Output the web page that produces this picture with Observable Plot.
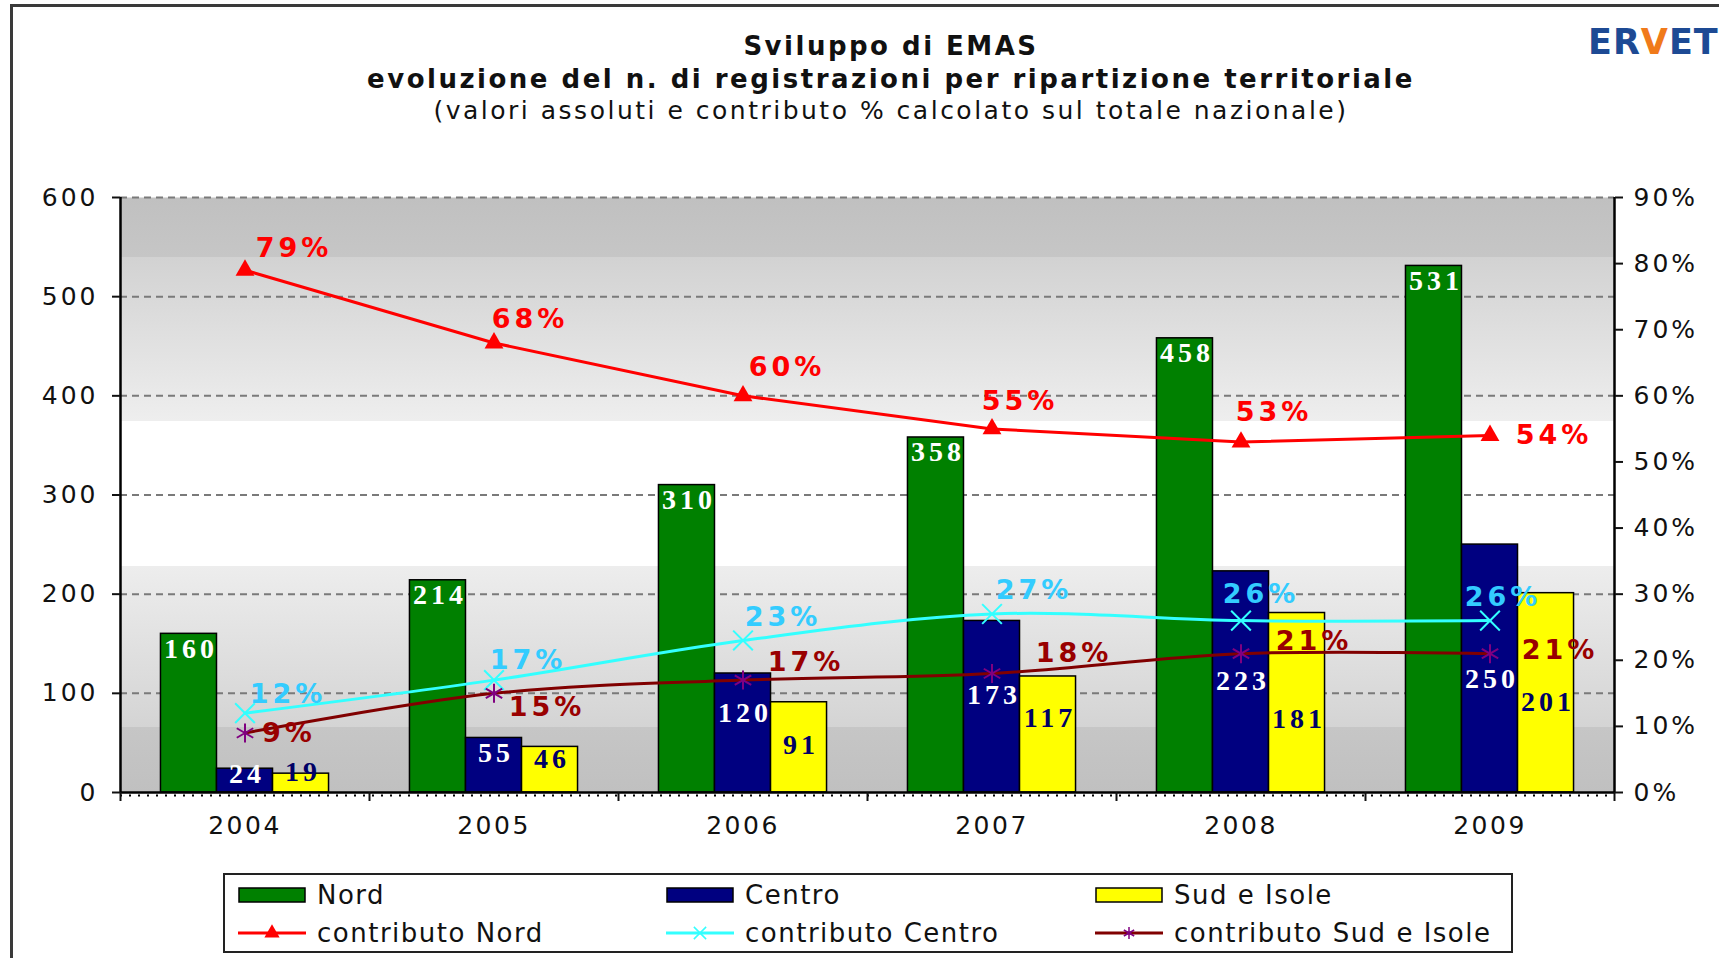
<!DOCTYPE html>
<html>
<head>
<meta charset="utf-8">
<script src="https://cdn.jsdelivr.net/npm/d3@7"></script>
<script src="https://cdn.jsdelivr.net/npm/@observablehq/plot@0.6"></script>
<style>
  html, body { margin: 0; padding: 0; background: #fff; }
  #root { position: relative; width: 1719px; height: 958px; overflow: hidden; background: #fff; font-family: "DejaVu Sans", Verdana, sans-serif; }
  #frame { position: absolute; left: 10px; top: 4px; width: 1800px; height: 1000px; border: 3px solid #3a3a3a; box-sizing: border-box; }
  .title { position: absolute; left: 291px; width: 1200px; text-align: center; color: #111; white-space: nowrap; }
  #t1 { top: 31px; font-size: 26px; line-height: 30px; font-weight: bold; letter-spacing: 2.5px; }
  #t2 { top: 64px; font-size: 26px; line-height: 30px; font-weight: bold; letter-spacing: 2.5px; }
  #t3 { top: 96px; font-size: 25px; line-height: 30px; letter-spacing: 2.5px; }
  #logo { position: absolute; left: 1588px; top: 22px; font-size: 35px; font-weight: bold; color: #1d4a94; letter-spacing: 1px; white-space: nowrap; }
  #logo span { color: #f07a1a; }
  #chart { position: absolute; left: 0; top: 150px; }
  #legend { position: absolute; left: 223px; top: 873px; width: 1290px; height: 80px; border: 2px solid #222; box-sizing: border-box; background: #fff; }
  .li { position: absolute; height: 34px; display: flex; align-items: center; font-size: 26px; letter-spacing: 1.5px; color: #111; white-space: nowrap; }
  .li svg { margin-right: 11px; }
  g[aria-label="text"][font-family="Liberation Serif"] text { letter-spacing: 4px; }
  g[aria-label="text"][font-family="DejaVu Sans"] text { letter-spacing: 4px; }
  g[aria-label="y-axis tick label"] text { letter-spacing: 3px; }
  g[aria-label="x-axis tick label"] text { letter-spacing: 2.5px; }
</style>
</head>
<body>
<div id="root">
  <div id="frame"></div>
  <div class="title" id="t1">Sviluppo di EMAS</div>
  <div class="title" id="t2">evoluzione del n. di registrazioni per ripartizione territoriale</div>
  <div class="title" id="t3">(valori assoluti e contributo % calcolato sul totale nazionale)</div>
  <div id="logo">ER<span>V</span>ET</div>
  <div id="chart"></div>
  <div id="legend"></div>
</div>
<script>
// ---- data ----
const years = [2004, 2005, 2006, 2007, 2008, 2009];
const nord = [160, 214, 310, 358, 458, 531];
const centro = [24, 55, 120, 173, 223, 250];
const sud = [19, 46, 91, 117, 181, 201];
const pctNord = [79, 68, 60, 55, 53, 54];
const pctCentro = [12, 17, 23, 27, 26, 26];
const pctSud = [9, 15, 17, 18, 21, 21];
const leftTicks = [0, 100, 200, 300, 400, 500, 600];
const rightTicks = [0, 10, 20, 30, 40, 50, 60, 70, 80, 90];
const seriesNames = ["Nord", "Centro", "Sud e Isole"];
const lineNames = ["contributo Nord", "contributo Centro", "contributo Sud e Isole"];

// ---- layout (label placement only) ----
const centroLabelAt = [19, 40, 80, 98, 112, 114];
const sudLabelAt = [21, 34, 48, 75, 74, 91];
const nordPctOff = [[47, -22], [34, -24], [42, -28], [26, -28], [31, -30], [62, 0]];
const centroPctOff = [[41, -19], [32, -20], [38, -23], [40, -24], [18, -26], [11, -23]];
const sudPctOff = [[42, 0], [51, 14], [61, -18], [80, -20], [71, -12], [68, -3]];

const leftMax = 600, rightMax = 90;
const toLeft = p => p * leftMax / rightMax;
const bw = 0.225;
const bounds = d3.range(years.length + 1).map(i => years[0] - 0.5 + i);

const colors = { nord: "#008000", centro: "#000080", sud: "#ffff00" };
const lineColors = { nord: "#ff0000", centro: "#33ffff", sud: "#800000" };
const labelColors = { nord: "#ff0000", centro: "#33ccff", sud: "#990000" };

const rows = (vals, off) => years.map((y, i) => ({ year: y, value: vals[i], x1: y + off - bw / 2, x2: y + off + bw / 2, xc: y + off, i }));
const nordRows = rows(nord, -bw), centroRows = rows(centro, 0), sudRows = rows(sud, bw);
const pctRows = vals => years.map((y, i) => ({ year: y, pct: vals[i], i }));

function barMarks(data, fill) {
  return Plot.rectY(data, { x1: "x1", x2: "x2", y1: 0, y2: "value", fill, stroke: "#000", strokeWidth: 1.5 });
}
function barLabels(data, yAcc, dy, color) {
  return Plot.text(data, { x: "xc", y: yAcc, dy, dx: 2, text: d => String(d.value), fill: color, fontWeight: "bold", fontSize: 28, fontFamily: "Liberation Serif", lineAnchor: "middle" });
}
function pctLabels(vals, offs, color) {
  return years.map((y, i) => Plot.text([{ year: y, pct: vals[i] }], {
    x: "year", y: d => toLeft(d.pct), text: d => d.pct + "%",
    dx: offs[i][0] + 2, dy: offs[i][1], fill: color, fontWeight: "bold", fontSize: 27,
    fontFamily: "DejaVu Sans", textAnchor: "middle", lineAnchor: "middle"
  }));
}

const chart = Plot.plot({
  width: 1719, height: 720,
  marginLeft: 120, marginRight: 105, marginTop: 47, marginBottom: 78,
  style: { fontFamily: "DejaVu Sans", color: "#111", background: "transparent", overflow: "visible" },
  x: { type: "linear", domain: [bounds[0], bounds[bounds.length - 1]], axis: null },
  y: { domain: [0, leftMax], axis: null },
  marks: [
    Plot.frame({ fill: "url(#bgGrad)", stroke: "none" }),
    Plot.ruleY(leftTicks.filter(t => t > 0), { stroke: "#7a7a7a", strokeWidth: 2, strokeDasharray: "7,5" }),
    barMarks(nordRows, colors.nord),
    barMarks(centroRows, colors.centro),
    barMarks(sudRows, colors.sud),
    Plot.ruleX([bounds[0], bounds[bounds.length - 1]], { y1: 0, y2: leftMax, stroke: "#000", strokeWidth: 2.5 }),
    Plot.ruleY([0], { stroke: "#000", strokeWidth: 2.5 }),
    Plot.ruleY([0], { stroke: "#000", strokeWidth: 2, strokeDasharray: "2,7", dy: 3 }),
    Plot.axisY(leftTicks, { anchor: "left", label: null, tickSize: 8, tickPadding: 14, fontSize: 25, tickFormat: d => String(d), strokeWidth: 2 }),
    Plot.axisY(rightTicks.map(toLeft), { anchor: "right", label: null, tickSize: 8, tickPadding: 11, fontSize: 25, tickFormat: d => Math.round(d * rightMax / leftMax) + "%", strokeWidth: 2 }),
    Plot.axisX(bounds, { anchor: "bottom", label: null, tickSize: 9, tickFormat: () => "", strokeWidth: 2 }),
    Plot.axisX(years, { anchor: "bottom", label: null, tickSize: 0, tickPadding: 24, fontSize: 25, tickFormat: d => String(d) }),
    // bar labels
    barLabels(nordRows, "value", 15, "#fff"),
    barLabels(centroRows, d => centroLabelAt[d.i], 0, "#fff"),
    barLabels(sudRows, d => sudLabelAt[d.i], 0, "#000066"),
    // lines
    Plot.line(pctRows(pctNord), { x: "year", y: d => toLeft(d.pct), stroke: lineColors.nord, strokeWidth: 3 }),
    Plot.line(pctRows(pctCentro), { x: "year", y: d => toLeft(d.pct), stroke: lineColors.centro, strokeWidth: 3, curve: "catmull-rom" }),
    Plot.line(pctRows(pctSud), { x: "year", y: d => toLeft(d.pct), stroke: lineColors.sud, strokeWidth: 3, curve: "catmull-rom" }),
    Plot.dot(pctRows(pctNord), { x: "year", y: d => toLeft(d.pct), symbol: "triangle", r: 7, fill: lineColors.nord, stroke: "none" }),
    Plot.dot(pctRows(pctCentro), { x: "year", y: d => toLeft(d.pct), symbol: "times", r: 9, stroke: lineColors.centro, strokeWidth: 2 }),
    Plot.dot(pctRows(pctSud), { x: "year", y: d => toLeft(d.pct), symbol: "asterisk", r: 9, stroke: "#800080", strokeWidth: 2 }),
    ...pctLabels(pctNord, nordPctOff, labelColors.nord),
    ...pctLabels(pctCentro, centroPctOff, labelColors.centro),
    ...pctLabels(pctSud, sudPctOff, labelColors.sud)
  ]
});

// background gradient definition
const svgSel = d3.select(chart);
const defs = svgSel.insert("defs", ":first-child");
const grad = defs.append("linearGradient").attr("id", "bgGrad").attr("x1", 0).attr("y1", 0).attr("x2", 0).attr("y2", 1);
[
  [0, "#c0c0c0"], [0.1, "#c6c6c6"], [0.1, "#d2d2d2"], [0.375, "#eeeeee"], [0.375, "#ffffff"],
  [0.62, "#ffffff"], [0.62, "#ededed"], [0.89, "#d4d4d4"], [0.89, "#c6c6c6"], [1, "#c0c0c0"]
].forEach(([o, c]) => grad.append("stop").attr("offset", o).attr("stop-color", c));

document.getElementById("chart").appendChild(chart);

// ---- legend ----
const legend = d3.select("#legend");
const cols = [13, 441, 870];
const barFills = [colors.nord, colors.centro, colors.sud];
const lnColors = [lineColors.nord, lineColors.centro, lineColors.sud];
const markers = ["triangle", "times", "asterisk"];
const markerColors = [lineColors.nord, lineColors.centro, "#800080"];
seriesNames.forEach((name, k) => {
  const item = legend.append("div").attr("class", "li").style("left", cols[k] + "px").style("top", (20 - 17) + "px");
  const s = item.append("svg").attr("width", 68).attr("height", 16);
  s.append("rect").attr("x", 1).attr("y", 1).attr("width", 66).attr("height", 14).attr("fill", barFills[k]).attr("stroke", "#000").attr("stroke-width", 1.5);
  item.append("span").text(name);
});
lineNames.forEach((name, k) => {
  const item = legend.append("div").attr("class", "li").style("left", cols[k] + "px").style("top", (58 - 17) + "px");
  const s = item.append("svg").attr("width", 68).attr("height", 20);
  s.append("line").attr("x1", 0).attr("x2", 68).attr("y1", 10).attr("y2", 10).attr("stroke", lnColors[k]).attr("stroke-width", 3);
  const sym = { triangle: d3.symbolTriangle, times: d3.symbolTimes, asterisk: d3.symbolAsterisk }[markers[k]];
  const path = d3.symbol(sym, 100)();
  const p = s.append("path").attr("d", path).attr("transform", "translate(34,10)");
  if (markers[k] === "triangle") p.attr("fill", markerColors[k]);
  else p.attr("fill", "none").attr("stroke", markerColors[k]).attr("stroke-width", 1.5);
  item.append("span").text(name);
});
</script>
</body>
</html>
